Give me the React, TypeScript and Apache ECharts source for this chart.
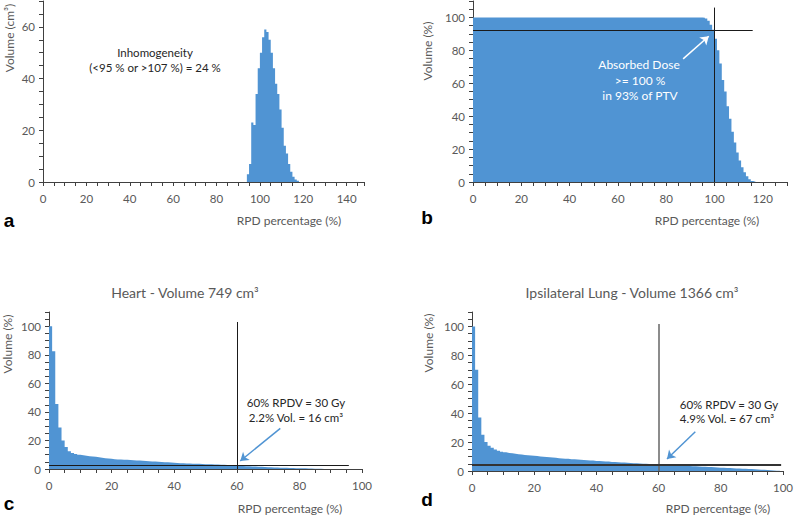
import React, { useEffect, useRef } from "react";
import * as echarts from "echarts";

// ---------- data ----------
// Panel a: differential dose histogram of the PTV (1 % bins)
const aBinStart = 94;
const aVolumes = [3, 7, 23, 22, 34, 44, 50, 56, 59, 58, 55, 50, 44, 38, 34, 28, 21, 14, 11, 7, 4, 2, 1, 0.5];

// Panel b: cumulative DVH of the PTV (dose where each step starts, volume %)
const bDoses = [0, 95, 96, 97, 98, 99, 100, 101, 102, 103, 104, 105, 106, 107, 108, 109, 110, 111, 112, 113, 114, 115, 116];
const bVolumes = [100, 99.8, 99.3, 98, 95.5, 92.5, 87, 80, 72, 62, 55, 46, 38.5, 30.5, 24, 18, 13, 9, 6, 3.5, 1.6, 0.6, 0.2];
const bEnd = 117;

// Panel c: Heart cumulative DVH (1 % bins starting at 0)
const heartVolumes = [
  100, 82.5, 45.5, 29, 20, 15.5, 12.5, 11.2, 10.5, 10,
  9.6, 9.3, 9, 8.7, 8.5, 8.2, 7.9, 7.6, 7.3, 7.1,
  6.9, 6.7, 6.6, 6.5, 6.4, 6.3, 6.1, 6, 5.9, 5.7,
  5.6, 5.5, 5.3, 5.2, 5.1, 4.9, 4.8, 4.7, 4.5, 4.4,
  4.2, 4.1, 4, 3.9, 3.8, 3.7, 3.7, 3.6, 3.5, 3.4,
  3.3, 3.3, 3.2, 3.1, 3, 2.9, 2.8, 2.7, 2.5, 2.4,
  2.2, 2.1, 2, 1.9, 1.8, 1.7, 1.6, 1.5, 1.4, 1.3,
  1.2, 1.1, 1, 0.95, 0.9, 0.85, 0.75, 0.7, 0.6, 0.55,
  0.5, 0.45, 0.4, 0.3, 0.25, 0.2, 0.1, 0.05,
];

// Panel d: Ipsilateral lung cumulative DVH (1 % bins starting at 0)
const lungVolumes = [
  100, 70, 37, 25, 20, 17.5, 16, 14.8, 14, 13.4,
  12.9, 12.5, 12.2, 11.9, 11.6, 11.4, 11.1, 10.9, 10.7, 10.5,
  10.3, 10.1, 9.9, 9.7, 9.5, 9.3, 9.1, 8.9, 8.7, 8.5,
  8.4, 8.2, 8.1, 7.9, 7.8, 7.6, 7.5, 7.3, 7.2, 7,
  6.9, 6.7, 6.6, 6.5, 6.3, 6.2, 6.1, 5.9, 5.8, 5.7,
  5.6, 5.4, 5.3, 5.2, 5.1, 5, 4.9, 4.8, 4.6, 4.5,
  4.4, 4.3, 4.2, 4.1, 4, 3.9, 3.8, 3.7, 3.5, 3.4,
  3.3, 3.2, 3.1, 3, 2.9, 2.8, 2.7, 2.6, 2.5, 2.3,
  2.2, 2.1, 2, 1.9, 1.8, 1.7, 1.6, 1.5, 1.4, 1.3,
  1.2, 1.05, 0.9, 0.8, 0.65, 0.5, 0.35, 0.2, 0.1,
];

// ---------- style ----------
const BLUE = "#5094D3";
const AXIS = "#404040";
const LABEL = "#595959";
const FONT = "Lato, 'Open Sans', sans-serif";

function stepData(starts: number[], values: number[], end: number) {
  const d: number[][] = starts.map((x, i) => [x, values[i]]);
  d.push([end, 0]);
  return d;
}

function xAxis(gridIndex: number, max: number, labelMax: number) {
  return {
    type: "value",
    gridIndex,
    min: 0,
    max,
    interval: 5,
    axisLine: { show: true, onZero: false, lineStyle: { color: AXIS, width: 1 } },
    axisTick: { show: true, length: 4, lineStyle: { color: AXIS } },
    axisLabel: {
      color: LABEL,
      fontSize: 11.5,
      fontFamily: FONT,
      margin: 10,
      formatter: (v: number) => (v % 20 === 0 && v <= labelMax ? String(v) : ""),
    },
    splitLine: { show: false },
  };
}

function yAxis(gridIndex: number, max: number, labelMax: number) {
  return {
    type: "value",
    gridIndex,
    min: 0,
    max,
    interval: 5,
    axisLine: { show: true, onZero: false, lineStyle: { color: AXIS, width: 1 } },
    axisTick: { show: true, length: 4, lineStyle: { color: AXIS } },
    axisLabel: {
      color: LABEL,
      fontSize: 11.5,
      fontFamily: FONT,
      margin: 8,
      formatter: (v: number) => (v % 20 === 0 && v <= labelMax ? String(v) : ""),
    },
    splitLine: { show: false },
  };
}

function seg(a: number[], b: number[], color: string, width: number, arrow = false) {
  return [
    { coord: a, symbol: "none", lineStyle: { color, width, type: "solid" } },
    { coord: b, symbol: arrow ? "arrow" : "none", symbolSize: arrow ? 8 : 0, lineStyle: { color, width, type: "solid" } },
  ];
}

function areaSeries(idx: number, data: number[][], lines: any[]) {
  return {
    type: "line",
    xAxisIndex: idx,
    yAxisIndex: idx,
    step: "end",
    symbol: "none",
    showSymbol: false,
    silent: true,
    data,
    lineStyle: { width: 0, color: BLUE },
    itemStyle: { color: BLUE },
    areaStyle: { color: BLUE, opacity: 1 },
    markLine: {
      silent: true,
      animation: false,
      symbol: ["none", "none"],
      label: { show: false },
      lineStyle: { type: "solid" },
      data: lines,
    },
  };
}

function txt(text: string, x: number, y: number, o: any = {}) {
  const align = o.align || "center";
  const valign = o.valign || "middle";
  return {
    type: "text",
    x,
    y,
    z: 100,
    silent: true,
    rotation: o.rotation || 0,
    style: {
      text,
      fill: o.color || LABEL,
      font: `${o.weight || "normal"} ${o.size || 12}px ${o.family || FONT}`,
      textAlign: align,
      textVerticalAlign: valign,
      align,
      verticalAlign: valign,
    },
  };
}

export default function App() {
  const ref = useRef<HTMLDivElement>(null);

  useEffect(() => {
    if (!ref.current) return;
    const chart = echarts.init(ref.current, undefined, { renderer: "svg" });

    const aData = stepData(aVolumes.map((_, i) => aBinStart + i), aVolumes, aBinStart + aVolumes.length);
    const bData = stepData(bDoses, bVolumes, bEnd);
    const cData = stepData(heartVolumes.map((_, i) => i), heartVolumes, heartVolumes.length);
    const dData = stepData(lungVolumes.map((_, i) => i), lungVolumes, lungVolumes.length);

    const R = Math.PI / 2;
    const letter = { weight: "bold", size: 19, color: "#000", family: "'Liberation Sans', Arial, sans-serif" };
    const note = { color: "#262626", size: 11.5 };
    const white = { color: "#ffffff", size: 12 };

    chart.setOption({
      animation: false,
      backgroundColor: "#ffffff",
      grid: [
        { left: 43, top: 1, width: 321, height: 181 },
        { left: 473, top: 1, width: 314, height: 181 },
        { left: 49, top: 312, width: 313, height: 157 },
        { left: 472, top: 312, width: 311, height: 159 },
      ],
      xAxis: [xAxis(0, 148, 140), xAxis(1, 130, 120), xAxis(2, 100, 100), xAxis(3, 100, 100)],
      yAxis: [yAxis(0, 70, 60), yAxis(1, 110, 100), yAxis(2, 110, 100), yAxis(3, 110, 100)],
      series: [
        areaSeries(0, aData, []),
        areaSeries(1, bData, [
          seg([100, 0], [100, 106], "#1a1a1a", 1),
          seg([0, 92], [115.8, 92], "#1a1a1a", 1),
          seg([87, 74.8], [97.6, 88.6], "#ffffff", 1.5, true),
        ]),
        areaSeries(2, cData, [
          seg([60, 0], [60, 103], "#1a1a1a", 1),
          seg([0, 2.3], [95.8, 2.3], "#1a1a1a", 1),
          seg([73.9, 28.5], [61.1, 5.6], BLUE, 1.5, true),
        ]),
        areaSeries(3, dData, [
          seg([60, 0], [60, 101.7], "#666666", 1.5),
          seg([0, 4.6], [99.4, 4.6], "#333333", 2),
          seg([71.8, 27.2], [62.7, 8.3], BLUE, 1.5, true),
        ]),
      ],
      graphic: [
        // axis names
        txt("Volume (cm³)", 9, 38, { rotation: R }),
        txt("Volume (%)", 427, 51, { rotation: R }),
        txt("Volume (%)", 7, 344, { rotation: R }),
        txt("Volume (%)", 428, 343, { rotation: R }),
        txt("RPD percentage (%)", 289, 220),
        txt("RPD percentage (%)", 707, 220),
        txt("RPD percentage (%)", 290, 508),
        txt("RPD percentage (%)", 718, 508),
        // titles
        txt("Heart - Volume 749 cm³", 185, 292, { size: 14 }),
        txt("Ipsilateral Lung - Volume 1366 cm³", 632, 292, { size: 14 }),
        // panel letters
        txt("a", 9, 220, letter),
        txt("b", 427, 217, letter),
        txt("c", 9, 503, letter),
        txt("d", 427, 499, letter),
        // annotations
        txt("Inhomogeneity", 155, 52, note),
        txt("(<95 % or >107 %) = 24 %", 155, 67, note),
        txt("Absorbed Dose", 639, 64, white),
        txt(">= 100 %", 640, 80, white),
        txt("in 93% of PTV", 640, 95, white),
        txt("60% RPDV = 30 Gy", 296, 402, note),
        txt("2.2% Vol. = 16 cm³", 296, 417, note),
        txt("60% RPDV = 30 Gy", 729, 404, note),
        txt("4.9% Vol. = 67 cm³", 727, 418, note),
      ],
    });

    return () => chart.dispose();
  }, []);

  return (
    <div
      ref={ref}
      style={{ position: "absolute", left: 0, top: 0, width: 796, height: 515, background: "#fff" }}
    />
  );
}
